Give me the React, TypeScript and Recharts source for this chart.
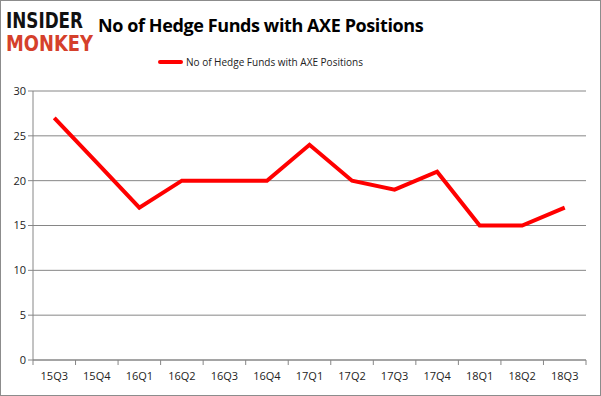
import { CartesianGrid, Line, LineChart, XAxis, YAxis } from 'recharts';

const quarters = ['15Q3', '15Q4', '16Q1', '16Q2', '16Q3', '16Q4', '17Q1', '17Q2', '17Q3', '17Q4', '18Q1', '18Q2', '18Q3'];
const hedgeFunds = [27, 22, 17, 20, 20, 20, 24, 20, 19, 21, 15, 15, 17];
const yTicks = [0, 5, 10, 15, 20, 25, 30];
const seriesName = 'No of Hedge Funds with AXE Positions';

const data = quarters.map((q, i) => ({ quarter: q, funds: hedgeFunds[i] }));

const W = 601;
const H = 396;
const PLOT_LEFT = 33;
const PLOT_RIGHT = 586;
const BAND = (PLOT_RIGHT - PLOT_LEFT) / quarters.length;
const AXIS_COLOR = '#868686';
const FONT = 'Open Sans, sans-serif';

const XTick = (props: { x?: number; y?: number; index?: number; payload?: { value: string } }) => {
  const { x = 0, y = 0, index = 0, payload } = props;
  const left = x - BAND / 2;
  return (
    <g>
      <line x1={left} x2={left} y1={y - 8} y2={y - 3} stroke={AXIS_COLOR} />
      {index === quarters.length - 1 && (
        <line x1={left + BAND} x2={left + BAND} y1={y - 8} y2={y - 3} stroke={AXIS_COLOR} />
      )}
      <text x={x} y={y + 12} textAnchor="middle" fontSize={11} fill="#222" fontFamily={FONT}>
        {payload?.value}
      </text>
    </g>
  );
};

export default function App() {
  return (
    <div
      style={{
        position: 'absolute',
        left: 0,
        top: 0,
        width: W,
        height: H,
        boxSizing: 'border-box',
        border: '1px solid #8c8c8c',
        background: '#fff',
        fontFamily: FONT,
        overflow: 'hidden',
      }}
    >
      <svg width={100} height={62} style={{ position: 'absolute', left: 0, top: 0 }}>
        <text x={5} y={27} fontSize={21} fontWeight={900} fill="#111" textLength={77} lengthAdjust="spacingAndGlyphs" fontFamily="DejaVu Sans Condensed, DejaVu Sans, sans-serif">
          INSIDER
        </text>
        <text x={5} y={50} fontSize={21} fontWeight={900} fill="#d5402b" textLength={87} lengthAdjust="spacingAndGlyphs" fontFamily="DejaVu Sans Condensed, DejaVu Sans, sans-serif">
          MONKEY
        </text>
      </svg>
      <div
        style={{
          position: 'absolute',
          left: 97,
          top: 12,
          fontSize: 18,
          fontWeight: 700,
          color: '#000',
          whiteSpace: 'nowrap',
          letterSpacing: -0.4,
        }}
      >
        {seriesName}
      </div>
      <div
        style={{
          position: 'absolute',
          left: 157,
          top: 54,
          display: 'flex',
          alignItems: 'center',
          fontSize: 10,
          color: '#222',
          whiteSpace: 'nowrap',
        }}
      >
        <span style={{ display: 'inline-block', width: 25, height: 4, background: '#ff0000', borderRadius: 2, marginRight: 3 }} />
        {seriesName}
      </div>
      <LineChart
        width={W - 2}
        height={H - 2}
        data={data}
        margin={{ top: 90, right: 14, bottom: 5, left: 7 }}
        style={{ position: 'absolute', left: 0, top: 0 }}
      >
        <CartesianGrid vertical={false} stroke={AXIS_COLOR} strokeDasharray="" />
        <XAxis
          dataKey="quarter"
          scale="band"
          stroke={AXIS_COLOR}
          tickLine={false}
          interval={0}
          height={30}
          tick={<XTick />}
        />
        <YAxis
          domain={[0, 30]}
          ticks={yTicks}
          width={25}
          stroke={AXIS_COLOR}
          tickSize={5}
          tick={{ fontSize: 11, fill: '#222', fontFamily: FONT }}
        />
        <Line
          type="linear"
          dataKey="funds"
          name={seriesName}
          stroke="#ff0000"
          strokeWidth={4}
          dot={false}
          isAnimationActive={false}
        />
      </LineChart>
    </div>
  );
}
